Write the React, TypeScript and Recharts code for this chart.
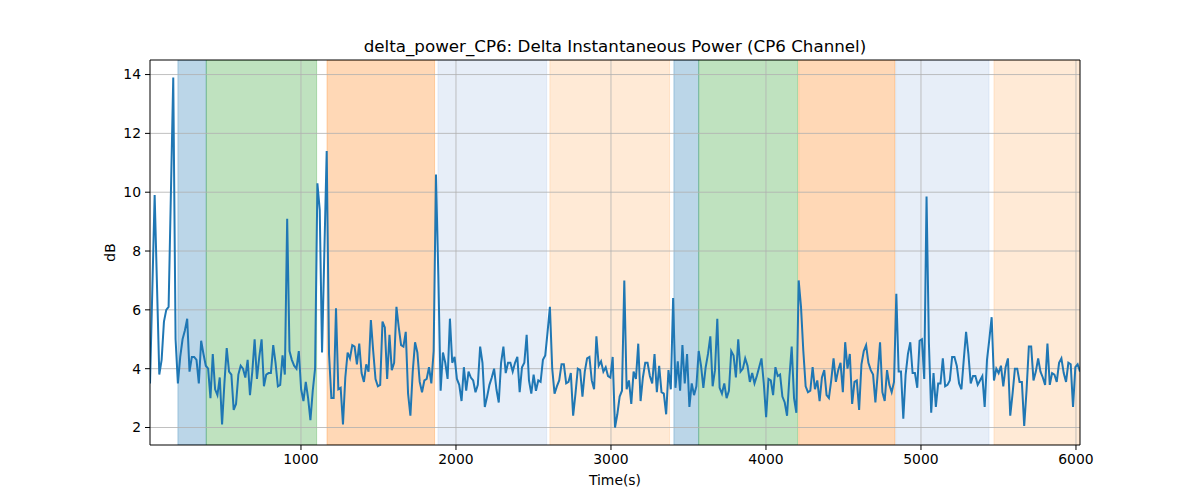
import React from 'react';
import { LineChart, Line, XAxis, YAxis, ReferenceArea, ReferenceLine, Label } from 'recharts';

const TITLE = 'delta_power_CP6: Delta Instantaneous Power (CP6 Channel)';
const X_LABEL = 'Time(s)';
const Y_LABEL = 'dB';

const T_START = 26;
const T_STEP = 15;

const VALUES = [
  3.5, 6.7, 9.9, 6.85, 3.8, 4.3, 5.6, 6.0, 6.1, 10.0,
  13.9, 5.0, 3.5, 4.4, 5.0, 5.3, 5.7, 3.9, 4.4, 4.4,
  4.3, 3.5, 4.95, 4.5, 4.1, 4.0, 3.0, 4.5, 3.3, 3.1,
  3.7, 2.1, 3.5, 4.7, 3.9, 3.8, 2.6, 2.8, 3.8, 4.1,
  4.0, 3.7, 4.3, 3.1, 3.9, 5.0, 3.65, 4.4, 5.0, 3.4,
  3.8, 3.85, 3.85, 4.8, 4.2, 3.4, 3.45, 4.45, 3.8, 9.1,
  4.6, 4.3, 4.1, 4.0, 4.6, 3.3, 2.9, 3.55, 3.0, 2.25,
  3.25, 4.0, 10.3, 9.4, 4.55, 8.0, 11.4, 4.5, 3.0, 3.0,
  6.05, 3.3, 3.35, 2.1, 3.7, 4.55, 4.35, 4.8, 4.75, 4.15,
  4.85, 3.85, 3.55, 4.15, 3.9, 5.65, 4.6, 3.65, 3.4, 3.45,
  5.6, 5.4, 3.65, 5.15, 3.95, 4.2, 6.1, 5.4, 4.8, 4.75,
  5.25, 3.15, 2.4, 3.9, 4.9, 4.55, 3.55, 3.2, 3.6, 3.65,
  4.05, 3.5, 4.6, 10.6, 7.2, 3.25, 4.55, 4.2, 3.65, 5.7,
  4.2, 4.4, 3.65, 3.45, 2.9, 4.05, 3.25, 3.9, 3.7, 3.6,
  3.2, 3.45, 4.75, 4.2, 2.7, 3.05, 3.45, 3.7, 4.0, 3.3,
  2.85, 4.2, 4.75, 3.85, 4.2, 4.2, 3.9, 4.2, 4.4, 3.2,
  4.05, 4.2, 5.15, 3.6, 3.15, 3.8, 3.25, 3.6, 3.55, 4.3,
  4.45, 5.25, 6.1, 4.0, 3.15, 3.4, 3.6, 4.15, 4.15, 3.5,
  3.55, 3.85, 2.4, 3.15, 4.0, 3.95, 3.05, 3.9, 4.35, 4.4,
  3.6, 3.3, 5.1, 4.1, 4.25, 3.9, 4.05, 3.75, 3.7, 4.4,
  2.0, 2.45, 3.05, 3.25, 7.0, 3.3, 3.6, 2.8, 3.9, 3.65,
  4.85, 2.9, 3.7, 4.2, 4.2, 3.75, 3.5, 4.5, 3.2, 4.1,
  3.2, 3.15, 2.45, 3.95, 3.3, 6.4, 3.35, 4.25, 3.25, 4.8,
  3.5, 4.5, 2.7, 3.5, 3.1, 3.4, 4.6, 4.1, 3.35, 4.05,
  4.5, 5.1, 3.4, 3.95, 5.7, 3.35, 3.15, 3.5, 3.0, 3.25,
  4.6, 4.45, 3.7, 5.0, 3.9, 4.0, 4.35, 4.1, 3.55, 3.85,
  3.5, 3.75, 4.05, 4.35, 3.5, 2.35, 3.65, 3.6, 3.1, 4.05,
  3.75, 3.8, 3.05, 2.85, 2.4, 3.7, 4.75, 3.0, 2.5, 7.0,
  6.1, 4.6, 3.4, 3.2, 3.25, 4.05, 3.3, 3.6, 2.9, 3.7,
  3.95, 3.1, 3.0, 3.6, 4.35, 3.55, 3.95, 4.2, 3.2, 4.9,
  4.0, 4.5, 2.8, 3.55, 3.6, 2.6, 4.15, 4.6, 4.8, 4.2,
  3.95, 3.8, 2.85, 3.85, 4.9, 3.2, 2.9, 3.95, 3.45, 3.2,
  3.55, 6.55, 3.9, 3.9, 2.3, 3.8, 4.5, 4.9, 3.85, 3.85,
  3.35, 4.95, 5.0, 3.65, 9.85, 4.9, 2.5, 3.85, 2.7, 3.5,
  3.5, 4.35, 3.4, 3.45, 3.6, 4.4, 4.4, 4.1, 3.5, 3.3,
  4.3, 5.25, 4.5, 3.5, 3.75, 3.75, 3.45, 3.6, 3.75, 2.7,
  4.3, 5.0, 5.75, 3.6, 4.0, 3.85, 4.1, 3.4, 4.05, 4.35,
  2.4, 3.15, 4.0, 4.0, 3.55, 3.55, 2.05, 3.25, 4.75, 4.75,
  3.6, 3.9, 4.35, 3.9, 3.7, 3.45, 4.85, 3.45, 3.85, 3.8,
  3.55, 4.2, 4.35, 3.85, 3.55, 4.2, 4.15, 2.7, 4.05, 4.15,
  3.9,
];

const SPAN_STARTS = [206, 389, 1168, 1884, 2606, 3406, 3566, 4211, 4837, 5471];
const SPAN_ENDS = [389, 1101, 1862, 2585, 3378, 3566, 4204, 4832, 5439, 6026];
const SPAN_KINDS = ['stageA', 'stageB', 'stageC', 'stageD', 'stageE', 'stageA', 'stageB', 'stageC', 'stageD', 'stageE'];

const X_TICKS = [1000, 2000, 3000, 4000, 5000, 6000];
const Y_TICKS = [2, 4, 6, 8, 10, 12, 14];

const X_DOMAIN: [number, number] = [26, 6026];
const Y_DOMAIN: [number, number] = [1.405, 14.495];

const KIND_COLOR: Record<string, string> = {
  stageA: '#1f77b4',
  stageB: '#2ca02c',
  stageC: '#ff7f0e',
  stageD: '#aec7e8',
  stageE: '#ffbb78',
};

const FONT = 'DejaVu Sans, sans-serif';

export default function App() {
  const data = VALUES.map((v, i) => ({ t: T_START + T_STEP * i, v }));
  const tickStyle = { fill: '#000', fontSize: 13.9, fontFamily: FONT };
  return (
    <div style={{ position: 'absolute', left: 0, top: 0, width: 1200, height: 500, background: '#fff', fontFamily: FONT }}>
      <div
        style={{
          position: 'absolute',
          left: 150,
          width: 930,
          top: 36,
          textAlign: 'center',
          fontSize: 16.7,
          lineHeight: '20px',
          color: '#000',
          fontFamily: FONT,
        }}
      >
        {TITLE}
      </div>
      <LineChart width={1200} height={500} data={data} margin={{ top: 60, right: 120, bottom: 25, left: 90 }}>
        <XAxis
          dataKey="t"
          type="number"
          domain={X_DOMAIN}
          ticks={X_TICKS}
          allowDataOverflow
          interval={0}
          height={30}
          tickSize={5}
          tickMargin={4}
          stroke="#000"
          tick={tickStyle}
        >
          <Label value={X_LABEL} position="bottom" offset={0} style={{ fill: '#000', fontSize: 13.9, fontFamily: FONT }} />
        </XAxis>
        <YAxis
          type="number"
          domain={Y_DOMAIN}
          ticks={Y_TICKS}
          allowDataOverflow
          interval={0}
          width={60}
          tickSize={5}
          tickMargin={4}
          stroke="#000"
          tick={tickStyle}
        >
          <Label value={Y_LABEL} angle={-90} position="insideLeft" offset={20} style={{ fill: '#000', fontSize: 13.9, fontFamily: FONT, textAnchor: 'middle' }} />
        </YAxis>
        {SPAN_STARTS.map((s, i) => (
          <ReferenceArea
            key={'span' + i}
            x1={s}
            x2={SPAN_ENDS[i]}
            y1={Y_DOMAIN[0]}
            y2={Y_DOMAIN[1]}
            fill={KIND_COLOR[SPAN_KINDS[i]]}
            fillOpacity={0.3}
            stroke={KIND_COLOR[SPAN_KINDS[i]]}
            strokeOpacity={0.3}
            strokeWidth={1}
            ifOverflow="hidden"
          />
        ))}
        {X_TICKS.map((t) => (
          <ReferenceLine key={'gx' + t} x={t} stroke="#b0b0b0" strokeWidth={0.8} />
        ))}
        {Y_TICKS.map((t) => (
          <ReferenceLine key={'gy' + t} y={t} stroke="#b0b0b0" strokeWidth={0.8} />
        ))}
        <Line dataKey="v" type="linear" stroke="#1f77b4" strokeWidth={2} dot={false} isAnimationActive={false} />
        <ReferenceLine y={Y_DOMAIN[1]} stroke="#000" strokeWidth={1} ifOverflow="visible" />
        <ReferenceLine x={X_DOMAIN[1]} stroke="#000" strokeWidth={1} ifOverflow="visible" />
      </LineChart>
    </div>
  );
}
